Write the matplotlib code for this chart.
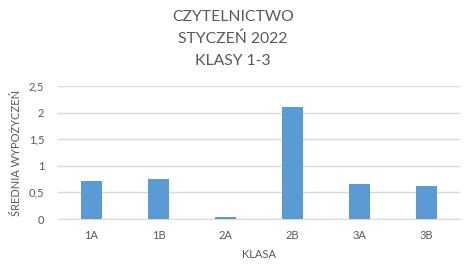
import matplotlib
matplotlib.use("Agg")
import matplotlib.pyplot as plt
from matplotlib.ticker import FuncFormatter

categories = ["1A", "1B", "2A", "2B", "3A", "3B"]
values = [0.72, 0.75, 0.04, 2.1, 0.66, 0.62]
yticks = [0, 0.5, 1, 1.5, 2, 2.5]
title_lines = ["CZYTELNICTWO", "STYCZEŃ 2022", "KLASY 1-3"]

plt.rcParams['font.family'] = ['Lato', 'DejaVu Sans']
grey = "#595959"

W, H = 467, 273
fig = plt.figure(figsize=(W/100, H/100), dpi=100)
ax = fig.add_axes([58/W, (H-219)/H, (460-58)/W, (219-86)/H])

x = range(len(categories))
ax.bar(x, values, width=0.31, color="#5B9BD5", zorder=3)
ax.set_xlim(-0.5, len(categories)-0.5)
ax.set_ylim(0, 2.5)
ax.set_yticks(yticks)
ax.yaxis.set_major_formatter(FuncFormatter(lambda v, p: ("%g" % v).replace(".", ",")))
ax.set_xticks(list(x))
ax.set_xticklabels(categories)
ax.grid(axis="y", color="#D9D9D9", linewidth=1, zorder=0)
for s in ["top", "right", "left"]:
    ax.spines[s].set_visible(False)
ax.spines["bottom"].set_color("#D9D9D9")
ax.tick_params(axis="both", length=0, colors=grey, labelsize=8)
ax.tick_params(axis="x", pad=8)
ax.tick_params(axis="y", pad=10)
ax.set_xlabel("KLASA", color=grey, fontsize=8, labelpad=6)
ax.set_ylabel("ŚREDNIA WYPOŻYCZEŃ", color=grey, fontsize=8, labelpad=5)

for i, line in enumerate(title_lines):
    fig.text(233/W, 1-(20.8 + 22.3*i)/H, line, ha="center", va="baseline",
             color=grey, fontsize=11.3)

fig.savefig("out.png", dpi=100)
